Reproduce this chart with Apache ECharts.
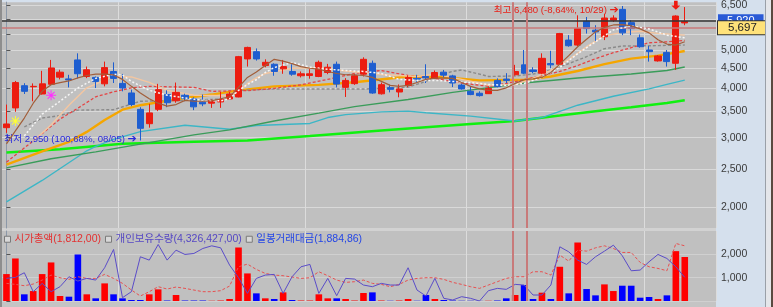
<!DOCTYPE html>
<html><head><meta charset="utf-8">
<script src="https://cdn.jsdelivr.net/npm/echarts@6/dist/echarts.min.js"></script>
<style>html,body{margin:0;padding:0;background:#d5e0ed;}#c{width:773px;height:307px;}</style>
</head><body><div id="c"></div>
<script>
// ---- categories (trading days) ----
const categories = ['07/15','07/16','07/17','07/18','07/19','07/22','07/23','07/24','07/25','07/26','07/29','07/30','07/31',
'08/01','08/02','08/05','08/06','08/07','08/08','08/09','08/12','08/13','08/14','08/16','08/19','08/20','08/21','08/22','08/23','08/26','08/27','08/28','08/29','08/30',
'09/02','09/03','09/04','09/05','09/06','09/09','09/10','09/11','09/12','09/13','09/19','09/20','09/23','09/24','09/25','09/26','09/27','09/30',
'10/02','10/04','10/07','10/08','10/10','10/11','10/14','10/15','10/16','10/17','10/18','10/21','10/22','10/23','10/24','10/25','10/28','10/29','10/30','10/31',
'11/01','11/04','11/05','11/06','11/07'];
const emptySlots = [' ', '  ', '   '];
// ---- candles: open, close, low, high ----
const candles = [
[3180,3250,3085,3640],[3570,4140,3490,4180],[4065,3934,3873,4125],[4040,4050,3712,4120],[3873,4110,3860,4435],
[4100,4510,4085,4727],[4273,4400,4218,4463],[4230,4206,4025,4333],[4727,4360,4243,4913],[4291,4463,4250,4547],
[4267,4169,4010,4291],[4110,4520,4050,4681],[4418,4243,4130,4660],[4120,4010,3934,4355],[3896,3642,3606,3973],
[3540,3168,2950,3585],[3255,3467,3180,3657],[3540,3973,3503,4110],[3860,3680,3585,3957],[3722,3910,3680,4141],
[3843,3770,3712,3880],[3762,3592,3524,3799],[3691,3655,3606,3860],[3670,3727,3571,3749],[3697,3749,3571,3918],
[3762,3873,3749,3918],[3806,4819,3799,4839],[4755,5086,4547,5107],[4961,4755,4709,5056],[4574,4662,4529,4744],
[4609,4418,4309,4635],[4487,4547,4359,4727],[4418,4349,4309,4609],[4309,4359,4267,4418],[4316,4359,4236,4477],
[4291,4662,4274,4709],[4392,4529,4349,4619],[4609,4104,4025,4681],[4026,4193,3806,4250],[4114,4309,4085,4355],
[4349,4744,4291,4800],[4635,3895,3877,4709],[3877,4090,3860,4141],[4019,3980,3910,4090],[3918,3990,3799,4095],
[4073,4267,4033,4322],[4243,4226,4141,4333],[4291,4258,4130,4609],[4243,4392,4230,4444],[4400,4324,4267,4458],
[4305,4130,4033,4333],[4080,3990,3973,4114],[3934,3860,3846,4050],[3890,3836,3815,3934],[3880,4002,3873,4050],
[4193,4043,4026,4243],[4226,4193,4130,4375],[4334,4418,4316,4593],[4593,4375,4352,5010],[4458,4418,4375,4529],
[4375,4772,4349,4913],[4626,4593,4503,4986],[4609,5516,4593,5537],[5309,5136,5107,5465],[5157,5678,5127,6137],
[5927,5678,5516,6077],[5626,5570,5278,5791],[5412,6041,5309,6194],[5962,6041,5903,6137],[6355,5538,5465,6480],
[5879,5678,5465,5962],[5380,5107,5078,5486],[5010,4961,4681,5127],[4700,4839,4681,4866],[4940,4681,4547,5010],
[4635,6112,4461,6137],[5870,5920,5791,6440]];
// ---- moving-average style lines (price) ----
const maBrown = [2893,3120,3364,3670,3934,4090,4141,4180,4255,4316,4349,4349,4329,4218,4050,3896,3766,3670,3606,3641,
3730,3712,3712,3720,3766,3810,4026,4267,4405,4574,4744,4694,4626,4547,4503,4477,4418,4367,4334,4329,
4316,4267,4169,4073,4050,4073,4141,4218,4250,4255,4243,4141,4050,3991,3957,3957,4015,4120,4210,4230,
4267,4392,4613,4847,5107,5333,5570,5717,5800,5810,5768,5668,5538,5320,5187,5157,5257];
const maWhite = [[2,3031],[4,3443],[6,3712],[8,4010],[10,4243],[12,4349],[13,4329],[14,4169],[16,3957],[18,3846],[20,3784],[22,3730],[24,3720],[25,3768],[26,3957],[27,4095],[28,4210],[29,4392],[30,4520],[32,4660],[34,4534],[36,4477],[38,4444],[40,4418],[42,4367],[44,4218],[46,4193],[48,4193],[50,4169],[52,4141],[54,4095],[56,4073],[58,4120],[60,4267],[62,4520],[64,4904],[66,5257],[68,5636],[70,5768],[72,5668],[74,5465],[76,5380]];
const maPeach = [[3,2944],[5,3232],[7,3627],[9,4015],[12,4291],[14,4279],[16,4145],[18,3957],[21,3846],[25,3832],[26,3920],[27,4120],[28,4254],[29,4367],[32,4503],[35,4516],[38,4431],[42,4340],[46,4291],[48,4349],[51,4218],[54,4082],[57,4090],[59,4243],[61,4444],[63,4733],[65,5107],[67,5443],[69,5554],[71,5592],[73,5523],[76,5465]];
const maRedDash = [[0,2599],[3,2944],[6,3345],[8,3564],[10,3810],[12,3922],[14,4015],[16,4050],[21,4026],[23,3934],[27,3950],[30,4003],[33,4085],[36,4218],[39,4367],[42,4444],[45,4316],[48,4243],[51,4130],[54,4050],[56,4120],[58,4210],[60,4316],[62,4418],[64,4574],[66,4763],[68,4933],[70,5078],[72,5227],[74,5257],[76,5302]];
const maGrayDash = [[2,3194],[4,3364],[6,3413],[8,3524],[12,3533],[15,3712],[20,3730],[25,3768],[26,3957],[30,3986],[40,3986],[45,4030],[47,4169],[48,4291],[50,4420],[51,4458],[53,4350],[54,4291],[57,4304],[59,4352],[61,4458],[63,4626],[65,4819],[67,5048],[69,5127],[72,5136],[76,5157]];
const maOrange = [[0,2562],[4,2770],[7,2927],[9,3102],[11,3325],[13,3533],[15,3627],[17,3691],[20,3784],[23,3860],[26,3957],[30,4050],[35,4085],[39,4147],[45,4291],[49,4271],[53,4193],[58,4210],[61,4291],[64,4431],[67,4613],[70,4763],[73,4847],[76,4980]];
const maGreen = [[0,2513],[5,2652],[10,2761],[15,2888],[21,3048],[25,3139],[30,3306],[35,3462],[39,3596],[45,3749],[50,3910],[53,3991],[58,4130],[64,4254],[70,4352],[74,4444],[76,4534]];
const maCyan = [[0,2059],[4,2335],[9,2778],[10,2852],[12,2970],[15,3107],[20,3225],[25,3152],[28,3221],[34,3260],[36,3374],[38,3433],[42,3489],[45,3503],[47,3470],[52,3403],[57,3306],[60,3374],[64,3627],[68,3821],[72,3991],[74,4096],[76,4200]];
const maLime = [[0,2751],[6,2803],[13,2893],[21,2927],[27,2952],[34,3031],[42,3130],[52,3249],[57,3306],[62,3413],[66,3503],[70,3585],[74,3676],[76,3734]];
// ---- price axis ----
const priceMin = 1768, priceMax = 6629;
const priceTicks = [2000,2500,3000,3500,4000,4500,5000,5500,6000,6500];
const priceLabels = [2000,2500,3000,3500,4000,4500,5000,6500];
const lastClose = 5920, avgPrice = 5697;
const highMark = {idx:69, price:6480, text:'최고 6,480 (-8,64%, 10/29)'};
const lowMark = {idx:15, price:2950, text:'최저 2,950 (100,68%, 08/05)'};
const starSignals = [{idx:1, price:3306, color:'#ffff30'}, {idx:5, price:3843, color:'#ff30ff'}];
const arrowSignals = [{idx:75, price:6510}];
const vLines = [56.68, 58.29];
// ---- lower panel ----
const tradeValue = [1154,1823,286,427,1154,1652,214,185,1994,286,114,755,286,114,43,43,286,499,20,256,
20,20,20,10,20,85,2293,1182,328,114,85,370,43,20,20,286,114,114,85,20,342,370,20,10,20,85,10,256,85,43,
20,10,10,5,10,20,114,256,684,85,356,85,1467,328,2507,513,242,712,427,655,655,142,171,85,242,2137,1885];
const holdQty = [969,1013,1211,399,755,399,613,1040,855,969,897,1425,2208,142,399,1895,1752,2422,1752,2179,
1995,2037,2251,2365,2279,1538,997,328,969,1111,1140,328,1040,1467,1567,328,969,228,969,940,684,613,755,684,684,1425,470,214,969,114,
43,185,114,0,442,541,499,712,684,256,256,684,2322,2108,1752,1567,1895,2137,2393,1938,1296,1325,1681,1995,1823,1467,1013];
const mcapLine = [755,712,655,727,897,1111,997,926,1040,969,969,1140,969,755,470,214,399,613,513,598,
541,470,399,399,442,641,1467,1581,1353,1182,1111,1083,1026,969,997,1254,1083,897,798,827,897,755,712,613,712,897,969,997,997,926,
798,712,613,541,684,827,969,1040,1040,1254,1254,1111,1966,1710,2179,2137,2279,2365,2251,2080,2080,1653,1467,1396,1296,2465,2365];
const volTicks = [0,1000,2000], volLabels = [1000,2000];
const legendNames = ['시가총액(1,812,00)','개인보유수량(4,326,427,00)','일봉거래대금(1,884,86)'];

const L = v => (v == null ? null : Math.log(v));
const fmt = n => n.toLocaleString('en-US');
const allCats = categories.concat(emptySlots);
const UP = '#ec1c10', DOWN = '#1e5ed0';
const FONT = 'Liberation Sans, Noto Sans CJK KR, sans-serif';
const monthSplit = (idx) => idx > 0 && idx < categories.length && categories[idx].slice(0,2) !== categories[idx-1].slice(0,2);

function pairs(p){ return p.map(([i,v]) => [i, L(v)]); }
function ml(name, data, color, width, type, z){
  return {name, type:'line', xAxisIndex:0, yAxisIndex:0, data, symbol:'none', connectNulls:true, silent:true,
    lineStyle:{color, width, type}, z: z||3, animation:false};
}
const chart = echarts.init(document.getElementById('c'), null, {renderer:'canvas'});
const option = {
  animation:false,
  backgroundColor:'#d5e0ed',
  textStyle:{fontFamily:FONT},
  graphic:[
    {type:'rect', left:0, top:228, shape:{width:716, height:3}, style:{fill:'#d2d2d2'}, silent:true, z:-1},
    {type:'rect', left:0, top:301, shape:{width:716, height:6}, style:{fill:'#c4c4c4'}, silent:true, z:-1},
    {type:'rect', left:0, top:0, shape:{width:2, height:307}, style:{fill:'#8e8e8e'}, silent:true, z:10},
    {type:'rect', left:765, top:0, shape:{width:8, height:307}, style:{fill:'#e4e6ea'}, silent:true, z:10},
    {type:'rect', left:765, top:0, shape:{width:1, height:307}, style:{fill:'#9aa0a8'}, silent:true, z:10},
    {type:'rect', left:771, top:0, shape:{width:2, height:307}, style:{fill:'#5a4a40'}, silent:true, z:10}
  ],
  grid:[
    {left:2, top:0, width:714, height:228, show:true, backgroundColor:'#c0c0c0', borderWidth:0},
    {left:2, top:231, width:714, height:70, show:true, backgroundColor:'#c0c0c0', borderWidth:0}
  ],
  legend:{
    left:4, top:234, itemWidth:6, itemHeight:6, itemGap:4, icon:'rect', padding:0, selectedMode:false,
    itemStyle:{color:'#d8d8d8', borderColor:'#7a7a7a', borderWidth:1},
    textStyle:{fontSize:10.5, fontFamily:FONT, padding:[0,0,0,-1]},
    data:[
      {name:legendNames[0], textStyle:{color:'#e43030'}},
      {name:legendNames[1], textStyle:{color:'#5648c4'}},
      {name:legendNames[2], textStyle:{color:'#2446e6'}}
    ]
  },
  xAxis:[
    {type:'category', gridIndex:0, data:allCats, boundaryGap:true, axisLine:{show:false}, axisTick:{show:false}, axisLabel:{show:false},
     splitLine:{show:true, interval:(i)=>monthSplit(i), lineStyle:{color:'#dcdcdc', width:1}}},
    {type:'category', gridIndex:1, data:allCats, boundaryGap:true, axisLine:{show:false}, axisTick:{show:false}, axisLabel:{show:false},
     splitLine:{show:true, interval:(i)=>monthSplit(i), lineStyle:{color:'#dcdcdc', width:1}}},
    {type:'value', gridIndex:0, min:-0.5, max:allCats.length-0.5, show:false},
    {type:'value', gridIndex:1, min:-0.5, max:allCats.length-0.5, show:false}
  ],
  yAxis:[
    {type:'value', gridIndex:0, position:'right', min:L(priceMin), max:L(priceMax),
     axisLine:{show:true, lineStyle:{color:'#8c98a8'}},
     axisTick:{show:true, length:4, customValues:priceTicks.map(L), lineStyle:{color:'#555'}},
     axisLabel:{customValues:priceLabels.map(L), formatter:v=>fmt(Math.round(Math.exp(v))), color:'#3a3a3a', fontSize:10.5, fontFamily:'Liberation Sans', margin:5},
     splitLine:{show:true, lineStyle:{color:'#d9d9d9', width:1}}},
    {type:'value', gridIndex:1, position:'right', min:0, max:3000,
     axisLine:{show:true, lineStyle:{color:'#8c98a8'}},
     axisTick:{show:true, length:4, customValues:volTicks, lineStyle:{color:'#555'}},
     axisLabel:{customValues:volLabels, formatter:v=>fmt(v), color:'#3a3a3a', fontSize:10.5, fontFamily:'Liberation Sans', margin:5},
     splitLine:{show:true, lineStyle:{color:'#d0d0d0', width:1}}}
  ],
  series:[
    ml('maLime', pairs(maLime), '#10f010', 2.5, 'solid', 2),
    ml('maCyan', pairs(maCyan), '#3cb6c6', 1.4, 'solid', 2),
    ml('maGreen', pairs(maGreen), '#3a9c5a', 1.4, 'solid', 2),
    ml('maOrange', pairs(maOrange), '#f5a600', 2.4, 'solid', 2),
    ml('maGrayDash', pairs(maGrayDash), '#8a8a8a', 1.4, [3,2], 2),
    ml('maRedDash', pairs(maRedDash), '#e44444', 1.3, [3,2], 2),
    ml('maPeach', pairs(maPeach), '#f4c6a0', 1.4, 'solid', 2),
    {name:'price', type:'candlestick', xAxisIndex:0, yAxisIndex:0, barWidth:'74%', z:4,
     data:candles.map(([o,c,l,h]) => [L(o), L(c), L(l), L(h)]),
     itemStyle:{color:UP, color0:DOWN, borderColor:UP, borderColor0:DOWN, borderWidth:1},
     markLine:{silent:true, symbol:'none', animation:false,
       data:[
        {yAxis:L(lastClose), lineStyle:{color:'#333333', width:1.6, type:'solid'},
         label:{show:true, position:'end', distance:2, formatter:fmt(lastClose), backgroundColor:'#2a5ad6', color:'#ffffff',
                fontSize:11, fontFamily:'Liberation Sans', padding:[1,9,1,9], lineHeight:11}},
        {yAxis:L(avgPrice), lineStyle:{color:'#c87a7a', width:1.5, type:'solid'},
         label:{show:true, position:'end', distance:2, formatter:fmt(avgPrice), backgroundColor:'#ffe27a', color:'#222',
                borderColor:'#333', borderWidth:1, fontSize:11.5, fontFamily:'Liberation Sans', padding:[1,10,0,10], lineHeight:12}}
       ]},
     markPoint:{silent:true, animation:false,
       data:[
        {coord:[highMark.idx, L(highMark.price)], symbol:'circle', symbolSize:1, itemStyle:{color:'transparent'},
         label:{show:true, position:'left', distance:3, offset:[0,4], formatter:highMark.text+' {a|➔}', color:'#e82018', fontSize:9.6, fontFamily:FONT,
                rich:{a:{fontSize:11, color:'#e82018', fontFamily:'DejaVu Sans'}}}},
        {coord:[lowMark.idx, L(lowMark.price)], symbol:'circle', symbolSize:1, itemStyle:{color:'transparent'},
         label:{show:true, position:'left', distance:3, offset:[0,-1], formatter:lowMark.text+' {a|➔}', color:'#2828dc', fontSize:9.6, fontFamily:FONT,
                rich:{a:{fontSize:11, color:'#2828dc', fontFamily:'DejaVu Sans'}}}}
       ].concat(arrowSignals.map(s => ({coord:[s.idx, L(s.price)], symbol:'path://M-1.6,-5L1.6,-5L1.6,0L4,0L0,4.5L-4,0L-1.6,0Z', symbolSize:[9,9],
             itemStyle:{color:'#ee1a10'}, label:{show:false}})))
       .concat(starSignals.map(s => ({coord:[s.idx, L(s.price)],
             symbol:'path://M-0.5,-5L0.5,-5L0.5,5L-0.5,5ZM-5,-0.5L5,-0.5L5,0.5L-5,0.5ZM-3.15,-3.85L3.85,3.15L3.15,3.85L-3.85,-3.15ZM-3.85,3.15L3.15,-3.85L3.85,-3.15L-3.15,3.85Z',
             symbolSize:10, itemStyle:{color:s.color}, label:{show:false}})))
     }},
    ml('maWhite', pairs(maWhite), '#f6f6f6', 1.5, [2,2], 5),
    ml('maBrown', maBrown.map((v,i)=>[i, L(v)]), '#a25e3a', 1.2, 'solid', 5),
    {name:'vlines0', type:'line', xAxisIndex:2, yAxisIndex:0, data:[], silent:true, z:6,
     markLine:{silent:true, symbol:'none', animation:false, label:{show:false}, lineStyle:{color:'#c87a7a', width:2, type:'solid'},
       data:vLines.map(v=>({xAxis:v}))}},
    // lower panel
    {name:legendNames[2], type:'bar', xAxisIndex:1, yAxisIndex:1, barWidth:'74%', z:2,
     data:tradeValue.map((v,i)=>({value:v, itemStyle:{color: candles[i][1] >= candles[i][0] ? '#ff0000' : '#0000ff'}}))},
    {name:legendNames[0], type:'line', xAxisIndex:1, yAxisIndex:1, data:mcapLine, symbol:'none', silent:true, z:3,
     lineStyle:{color:'#e85050', width:1, type:[3,2]}},
    {name:legendNames[1], type:'line', xAxisIndex:1, yAxisIndex:1, data:holdQty, symbol:'none', silent:true, z:3,
     lineStyle:{color:'#5a4cc8', width:1}},
    {name:'vlines1', type:'line', xAxisIndex:3, yAxisIndex:1, data:[], silent:true, z:6,
     markLine:{silent:true, symbol:'none', animation:false, label:{show:false}, lineStyle:{color:'#c87a7a', width:2, type:'solid'},
       data:vLines.map(v=>({xAxis:v}))}}
  ]
};
chart.setOption(option);
</script></body></html>
